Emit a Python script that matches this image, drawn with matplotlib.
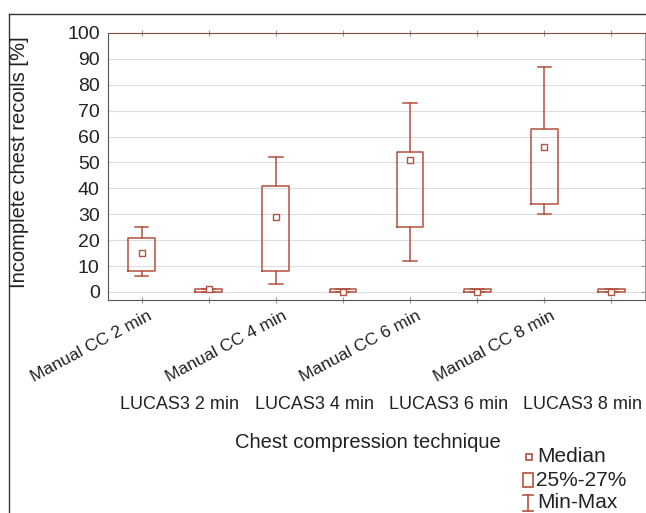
import numpy as np
import matplotlib
matplotlib.use("Agg")
import matplotlib.pyplot as plt
from matplotlib.lines import Line2D
from matplotlib.patches import Rectangle

plt.rcParams['font.family'] = ['Liberation Sans', 'DejaVu Sans']

# data
groups = ["Manual CC 2 min", "LUCAS3 2 min", "Manual CC 4 min", "LUCAS3 4 min",
          "Manual CC 6 min", "LUCAS3 6 min", "Manual CC 8 min", "LUCAS3 8 min"]
medians = [15, 1, 29, 0, 51, 0, 56, 0]
q1 = [8, 0, 8, 0, 25, 0, 34, 0]
q3 = [21, 1, 41, 1, 54, 1, 63, 1]
mins = [6, 0, 3, 0, 12, 0, 30, 0]
maxs = [25, 1, 52, 1, 73, 1, 87, 1]

col = '#b5513f'
txt = '#222222'
W, H = 646, 513

fig = plt.figure(figsize=(6.46, 5.13), dpi=100)
ax = fig.add_axes([108/W, 1-300/H, (645-108)/W, (300-33)/H])

stats = []
for i in range(len(groups)):
    stats.append(dict(med=medians[i], q1=q1[i], q3=q3[i],
                      whislo=mins[i], whishi=maxs[i], fliers=[]))
pos = np.arange(len(groups))
ax.bxp(stats, positions=pos, widths=0.4, capwidths=0.2, showfliers=False,
       boxprops=dict(color=col, lw=1.1), whiskerprops=dict(color=col, lw=1.1),
       capprops=dict(color=col, lw=1.1), medianprops=dict(lw=0))
ax.plot(pos, medians, 's', ms=4, mfc='white', mec=col, mew=1.0, ls='none', zorder=5)

ax.set_xlim(-0.5, 7.5)
ax.set_ylim(-3.1, 100)
ax.set_yticks(np.arange(0, 101, 10))
ax.set_yticklabels([str(v) for v in range(0, 101, 10)], fontsize=14, color=txt)
ax.yaxis.grid(True, color='#dddddd', lw=0.8)
ax.set_axisbelow(True)
ax.tick_params(axis='y', left=False, right=True, direction='in', length=3,
               color='#999999', pad=6)
ax.set_xticks(pos)
ax.set_xticklabels([])
ax.tick_params(axis='x', bottom=True, top=True, direction='inout', length=4,
               color='#999999')
for s in ['left', 'bottom']:
    ax.spines[s].set_color('#555555')
ax.spines['top'].set_color('#8a4a40')
ax.spines['right'].set_color('#999999')

tr = ax.get_xaxis_transform()
for i in range(0, len(groups), 2):
    ax.text(i + 0.09, -0.03, groups[i], transform=tr, rotation=28,
            rotation_mode='anchor', ha='right', va='top', fontsize=12.5, color=txt)
for i in range(1, len(groups), 2):
    ax.text(i - 0.43, -0.393, groups[i], transform=tr, ha='center', va='center',
            fontsize=13, color=txt)

fig.text(368/W, 1-442/H, "Chest compression technique", ha='center', va='center',
         fontsize=14.5, color=txt)
fig.text(20/W, 1-162/H, "Incomplete chest recoils [%]", rotation=90,
         ha='center', va='center', fontsize=14.5, color=txt)

# outer frame of the cropped figure
fig.add_artist(Line2D([8.5/W, 8.5/W], [0, 1-14/H], color='#333333', lw=1.0))
fig.add_artist(Line2D([8.5/W, 1], [1-14/H, 1-14/H], color='#333333', lw=1.0))

# legend
fig.add_artist(Line2D([529/W], [1-457/H], marker='s', ms=5, mfc='white', mec=col,
                      mew=1.2, ls='none'))
fig.text(537/W, 1-457/H, "Median", ha='left', va='center', fontsize=15, color=txt)
fig.add_artist(Rectangle((523/W, 1-487/H), 10/W, 14/H, fill=False, ec=col, lw=1.2))
fig.text(536/W, 1-480/H, "25%-27%", ha='left', va='center', fontsize=15, color=txt)
fig.add_artist(Line2D([528/W, 528/W], [1-495/H, 1-511/H], color=col, lw=1.2))
fig.add_artist(Line2D([523/W, 533/W], [1-495/H, 1-495/H], color=col, lw=1.2))
fig.add_artist(Line2D([523/W, 533/W], [1-511/H, 1-511/H], color=col, lw=1.2))
fig.text(537/W, 1-503/H, "Min-Max", ha='left', va='center', fontsize=15, color=txt)

fig.savefig("out.png", dpi=100)
